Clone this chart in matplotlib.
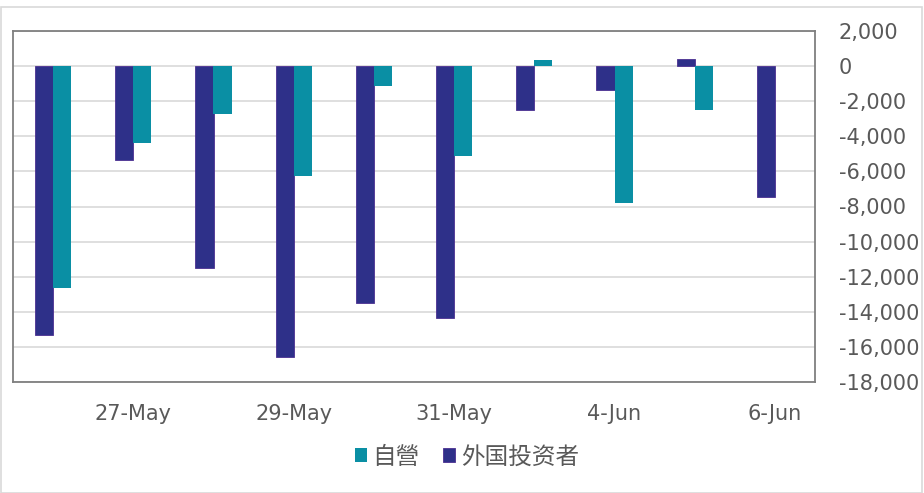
import numpy as np
import matplotlib.pyplot as plt
from matplotlib.patches import Rectangle
from matplotlib.ticker import FuncFormatter

plt.rcParams["font.family"] = ["DejaVu Sans", "Noto Sans CJK SC"]

dates = ["24-May", "27-May", "28-May", "29-May", "30-May",
         "31-May", "3-Jun", "4-Jun", "5-Jun", "6-Jun"]
foreign = [-15350, -5350, -11500, -16600, -13500, -14350, -2500, -1380, 430, -7450]
prop = [-12650, -4400, -2750, -6250, -1150, -5150, 340, -7800, -2500, 0]

PURPLE = "#2E3089"
TEAL = "#0A8FA4"
TXT = "#595959"

W, H = 924, 493
fig = plt.figure(figsize=(W / 100, H / 100), dpi=100)
ax = fig.add_axes([13 / W, 1 - 382 / H, (815 - 13) / W, (382 - 31) / H])

x = np.arange(len(dates))
bw = 0.225
ax.bar(x - bw / 2, foreign, bw, color=PURPLE, edgecolor="#4B2F91", linewidth=0.6,
       label="外国投资者", zorder=3)
ax.bar(x + bw / 2, prop, bw, color=TEAL, label="自營", zorder=3)

ax.set_xlim(-0.5, len(dates) - 0.5)
ax.set_ylim(-18000, 2000)
ax.set_yticks(np.arange(-18000, 2001, 2000))
ax.yaxis.set_major_formatter(FuncFormatter(lambda v, p: f"{int(v):,}"))
ax.yaxis.tick_right()
ax.grid(axis="y", color="#D9D9D9", linewidth=1.2, zorder=0)
ax.set_xticks(x[1::2])
ax.set_xticklabels(dates[1::2])
ax.tick_params(axis="both", length=0, labelsize=15, colors=TXT)
ax.tick_params(axis="y", pad=17)
ax.tick_params(axis="x", pad=16)
for s in ax.spines.values():
    s.set_color("#7F7F7F")
    s.set_linewidth(1.3)

handles, labels = ax.get_legend_handles_labels()
leg = fig.legend(handles[::-1], labels[::-1], loc="center", bbox_to_anchor=(467 / W, 1 - 457 / H),
                 ncol=2, frameon=False, handlelength=0.5, handleheight=0.5, handletextpad=0.25,
                 columnspacing=1.0, prop={"family": ["Noto Sans CJK SC"], "size": 17})
for t in leg.get_texts():
    t.set_color(TXT)

fig.patches.append(Rectangle((1 / W, 0.5 / H), 921 / W, 1 - 7.5 / H, transform=fig.transFigure,
                             fill=False, edgecolor="#D9D9D9", linewidth=1.2))

fig.savefig("out.png", dpi=100)
